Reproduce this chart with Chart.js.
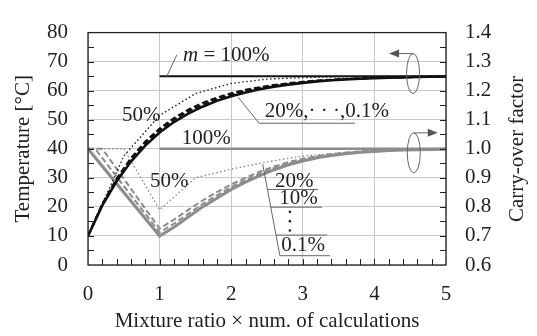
<!DOCTYPE html>
<html>
<head>
<meta charset="utf-8">
<script src="https://cdn.jsdelivr.net/npm/chart.js@4.4.1/dist/chart.umd.min.js"></script>
<style>
  html, body { margin: 0; padding: 0; background: #fff; }
  #wrap { width: 537px; height: 336px; }
</style>
</head>
<body>
<div id="wrap"><canvas id="mixChart"></canvas></div>
<script>
// temperature [°C], x = mixture ratio × number of calculations
const xFine = [0, 0.2, 0.4, 0.6, 0.8, 1, 1.2, 1.4, 1.6, 1.8, 2, 2.2, 2.4, 2.6, 2.8, 3, 3.2, 3.4, 3.6, 3.8, 4, 4.2, 4.4, 4.6, 4.8, 5];
const temp01 = [10, 20.5, 28.8, 35.6, 41.1, 45.6, 49.2, 52.1, 54.5, 56.5, 58.1, 59.4, 60.5, 61.4, 62.1, 62.7, 63.2, 63.6, 63.9, 64.1, 64.3, 64.5, 64.6, 64.7, 64.8, 64.85];
const temp10 = [10, 21.0, 29.5, 36.4, 41.9, 46.4, 50.0, 52.9, 55.2, 57.1, 58.6, 59.9, 60.9, 61.7, 62.4, 62.9, 63.4, 63.7, 64.0, 64.2, 64.4, 64.55, 64.65, 64.75, 64.8, 64.9];
const temp20 = [10, 21.0, 29.8, 36.8, 42.5, 47.0, 50.6, 53.5, 55.8, 57.6, 59.1, 60.3, 61.2, 62.0, 62.6, 63.1, 63.5, 63.8, 64.0, 64.2, 64.4, 64.5, 64.6, 64.7, 64.75, 64.8];
const xHalf = [0, 0.5, 1, 1.5, 2, 2.5, 3, 3.5, 4, 4.5, 5];
const temp50 = [10, 37.5, 51.5, 59.0, 62.5, 64.0, 64.5, 64.8, 64.9, 65.0, 65.0];
const xFull = [1, 5];
const temp100 = [65, 65];

// carry-over factor
const xCof01 = [0, 1, 1.2, 1.4, 1.6, 1.8, 2, 2.2, 2.4, 2.6, 2.8, 3, 3.2, 3.4, 3.6, 3.8, 4, 4.2, 4.4, 4.6, 4.8, 5];
const cof01 = [1.0, 0.700, 0.730, 0.765, 0.800, 0.830, 0.860, 0.885, 0.908, 0.928, 0.945, 0.958, 0.969, 0.977, 0.983, 0.988, 0.991, 0.994, 0.996, 0.997, 0.998, 0.999];
const xCof10 = [0, 0.1, 1, 1.2, 1.4, 1.6, 1.8, 2, 2.2, 2.4, 2.6, 2.8, 3, 3.2, 3.4, 3.6, 3.8, 4, 4.2, 4.4, 4.6, 4.8, 5];
const cof10 = [1.0, 1.0, 0.712, 0.742, 0.776, 0.810, 0.840, 0.868, 0.892, 0.914, 0.933, 0.949, 0.962, 0.972, 0.979, 0.985, 0.989, 0.992, 0.995, 0.996, 0.997, 0.998, 0.999];
const xCof20 = [0, 0.2, 1, 1.2, 1.4, 1.6, 1.8, 2, 2.2, 2.4, 2.6, 2.8, 3, 3.2, 3.4, 3.6, 3.8, 4, 4.2, 4.4, 4.6, 4.8, 5];
const cof20 = [1.0, 1.0, 0.725, 0.756, 0.790, 0.822, 0.851, 0.877, 0.900, 0.921, 0.939, 0.954, 0.966, 0.975, 0.982, 0.987, 0.991, 0.994, 0.996, 0.997, 0.998, 0.999, 0.999];
const cof50 = [1.0, 1.0, 0.79, 0.90, 0.93, 0.955, 0.975, 0.985, 0.992, 0.996, 0.998];
const cof100 = [1.0, 1.0];

const serif = "'Liberation Serif', 'Times New Roman', serif";
const fontSize = 21;
const grey = '#8c8c8c';

function pts(xs, ys) {
    return xs.map((x, i) => ({ x: x, y: ys[i] }));
}

function line(xs, ys, color, width, dash, axis) {
    return {
        data: pts(xs, ys),
        borderColor: color,
        borderWidth: width,
        borderDash: dash,
        yAxisID: axis,
        pointRadius: 0,
        tension: 0,
        fill: false
    };
}

// frame, inner minor ticks, labels, leader lines and the two axis marker ellipses
const decorations = {
    id: 'decorations',
    afterDraw(chart) {
        const ctx = chart.ctx;
        const xs = chart.scales.x, ys = chart.scales.y, ys2 = chart.scales.y2;
        const a = chart.chartArea;
        const X = v => xs.getPixelForValue(v);
        const Y = v => ys.getPixelForValue(v);

        ctx.save();
        ctx.strokeStyle = '#222';
        ctx.lineWidth = 1;
        ctx.beginPath();
        for (let v = 0.2; v < 5; v += 0.2) {
            const px = Math.round(X(v)) + 0.5;
            ctx.moveTo(px, a.bottom);
            ctx.lineTo(px, a.bottom - 6);
        }
        for (let v = 5; v < 80; v += 5) {
            const py = Math.round(Y(v)) + 0.5;
            ctx.moveTo(a.left, py);
            ctx.lineTo(a.left + 6, py);
        }
        for (let v = 0.65; v < 1.4; v += 0.05) {
            const py = Math.round(ys2.getPixelForValue(v)) + 0.5;
            ctx.moveTo(a.right, py);
            ctx.lineTo(a.right - 6, py);
        }
        ctx.stroke();
        ctx.lineWidth = 1.3;
        ctx.strokeRect(a.left, a.top, a.right - a.left, a.bottom - a.top);

        // leader lines
        ctx.strokeStyle = '#666';
        ctx.lineWidth = 1;
        ctx.beginPath();
        ctx.moveTo(X(1.10), Y(64.9)); ctx.lineTo(X(1.24), Y(72.3));
        ctx.moveTo(X(2.095), Y(57.8)); ctx.lineTo(X(2.39), Y(48.8)); ctx.lineTo(X(3.73), Y(48.8));
        ctx.moveTo(X(2.44), Y(34.7)); ctx.lineTo(X(2.68), Y(3.2)); ctx.lineTo(X(3.38), Y(3.2));
        const lead = v => X(2.44) + (Y(v) - Y(34.7)) / (Y(3.2) - Y(34.7)) * (X(2.68) - X(2.44));
        [[26.0, 3.21], [19.9, 3.27], [10.3, 3.34]].forEach(([v, end]) => {
            ctx.moveTo(lead(v), Y(v));
            ctx.lineTo(X(end), Y(v));
        });
        ctx.stroke();

        // ellipses with arrows pointing to their axes
        function marker(cx, cy, dir) {
            const px = X(cx), py = Y(cy);
            ctx.strokeStyle = '#666';
            ctx.lineWidth = 1;
            ctx.beginPath();
            ctx.ellipse(px, py, 6.5, 20, 0, 0, Math.PI * 2);
            ctx.stroke();
            const tipX = px + dir * 24, topY = py - 20;
            ctx.beginPath();
            ctx.moveTo(px, topY);
            ctx.lineTo(tipX - dir * 8, topY);
            ctx.stroke();
            ctx.fillStyle = '#555';
            ctx.beginPath();
            ctx.moveTo(tipX, topY);
            ctx.lineTo(tipX - dir * 10, topY - 4);
            ctx.lineTo(tipX - dir * 10, topY + 4);
            ctx.closePath();
            ctx.fill();
        }
        marker(4.54, 65.9, -1);
        marker(4.55, 38.6, 1);

        // labels
        ctx.fillStyle = '#222';
        ctx.textBaseline = 'middle';
        ctx.textAlign = 'left';
        ctx.font = 'italic ' + fontSize + 'px ' + serif;
        ctx.fillText('m', X(1.327), Y(72.0));
        const mw = ctx.measureText('m').width;
        ctx.font = fontSize + 'px ' + serif;
        ctx.fillText(' = 100%', X(1.327) + mw, Y(72.0));
        ctx.fillText('50%', X(0.475), Y(51.5));
        ctx.fillText('20%,\u00b7 \u00b7 \u00b7,0.1%', X(2.47), Y(52.7));
        ctx.fillText('100%', X(1.31), Y(43.6));
        ctx.fillText('50%', X(0.866), Y(28.6));
        ctx.fillText('20%', X(2.61), Y(28.6));
        ctx.fillText('10%', X(2.67), Y(22.8));
        ctx.fillText('0.1%', X(2.70), Y(6.6));
        [18.3, 15.1, 11.9].forEach(v => {
            ctx.beginPath();
            ctx.arc(X(2.82), Y(v), 1.3, 0, Math.PI * 2);
            ctx.fill();
        });

        // right axis title, reading bottom to top
        ctx.save();
        ctx.translate(517, (a.top + a.bottom) / 2);
        ctx.rotate(-Math.PI / 2);
        ctx.textAlign = 'center';
        ctx.fillText('Carry-over factor', 0, 0);
        ctx.restore();
        ctx.restore();
    }
};

new Chart(document.getElementById('mixChart').getContext('2d'), {
    type: 'line',
    data: {
        datasets: [
            line(xFine, temp01, '#111', 2.6, [], 'y'),
            line(xFine, temp10, '#111', 2, [6, 3], 'y'),
            line(xFine, temp20, '#111', 2, [6, 3], 'y'),
            line(xHalf, temp50, '#222', 1.4, [1.5, 2.5], 'y'),
            line(xFull, temp100, '#111', 2, [], 'y'),
            line(xCof01, cof01, grey, 3, [], 'y2'),
            line(xCof10, cof10, grey, 2, [6, 3], 'y2'),
            line(xCof20, cof20, grey, 2, [6, 3], 'y2'),
            line(xHalf, cof50, grey, 1.4, [1.5, 2.5], 'y2'),
            line(xFull, cof100, grey, 2.6, [], 'y2')
        ]
    },
    options: {
        responsive: true,
        maintainAspectRatio: false,
        animation: false,
        layout: { padding: { top: 16, left: 0, right: 0, bottom: 0 } },
        plugins: { legend: { display: false }, tooltip: { enabled: false } },
        scales: {
            x: {
                type: 'linear',
                min: 0,
                max: 5,
                ticks: { stepSize: 1, color: '#222', padding: 17, font: { family: serif, size: fontSize } },
                grid: { color: '#c8c8c8', drawTicks: false },
                border: { display: false },
                title: {
                    display: true,
                    text: 'Mixture ratio \u00d7 num. of calculations',
                    color: '#222',
                    font: { family: serif, size: fontSize },
                    padding: { top: 0, bottom: 1.5 }
                },
                afterFit: scale => { scale.height = 71; }
            },
            y: {
                position: 'left',
                min: 0,
                max: 80,
                ticks: { stepSize: 10, color: '#222', padding: 20, font: { family: serif, size: fontSize } },
                grid: { color: '#c8c8c8', drawTicks: false },
                border: { display: false },
                title: {
                    display: true,
                    text: 'Temperature [\u00b0C]',
                    color: '#222',
                    font: { family: serif, size: fontSize },
                    padding: { top: 11, bottom: 0 }
                },
                afterFit: scale => { scale.width = 88; }
            },
            y2: {
                position: 'right',
                min: 0.6,
                max: 1.4,
                ticks: {
                    stepSize: 0.1,
                    color: '#222',
                    padding: 19,
                    font: { family: serif, size: fontSize },
                    callback: v => v.toFixed(1)
                },
                grid: { drawOnChartArea: false, drawTicks: false },
                border: { display: false },
                afterFit: scale => { scale.width = 91; }
            }
        }
    },
    plugins: [decorations]
});
</script>
</body>
</html>
